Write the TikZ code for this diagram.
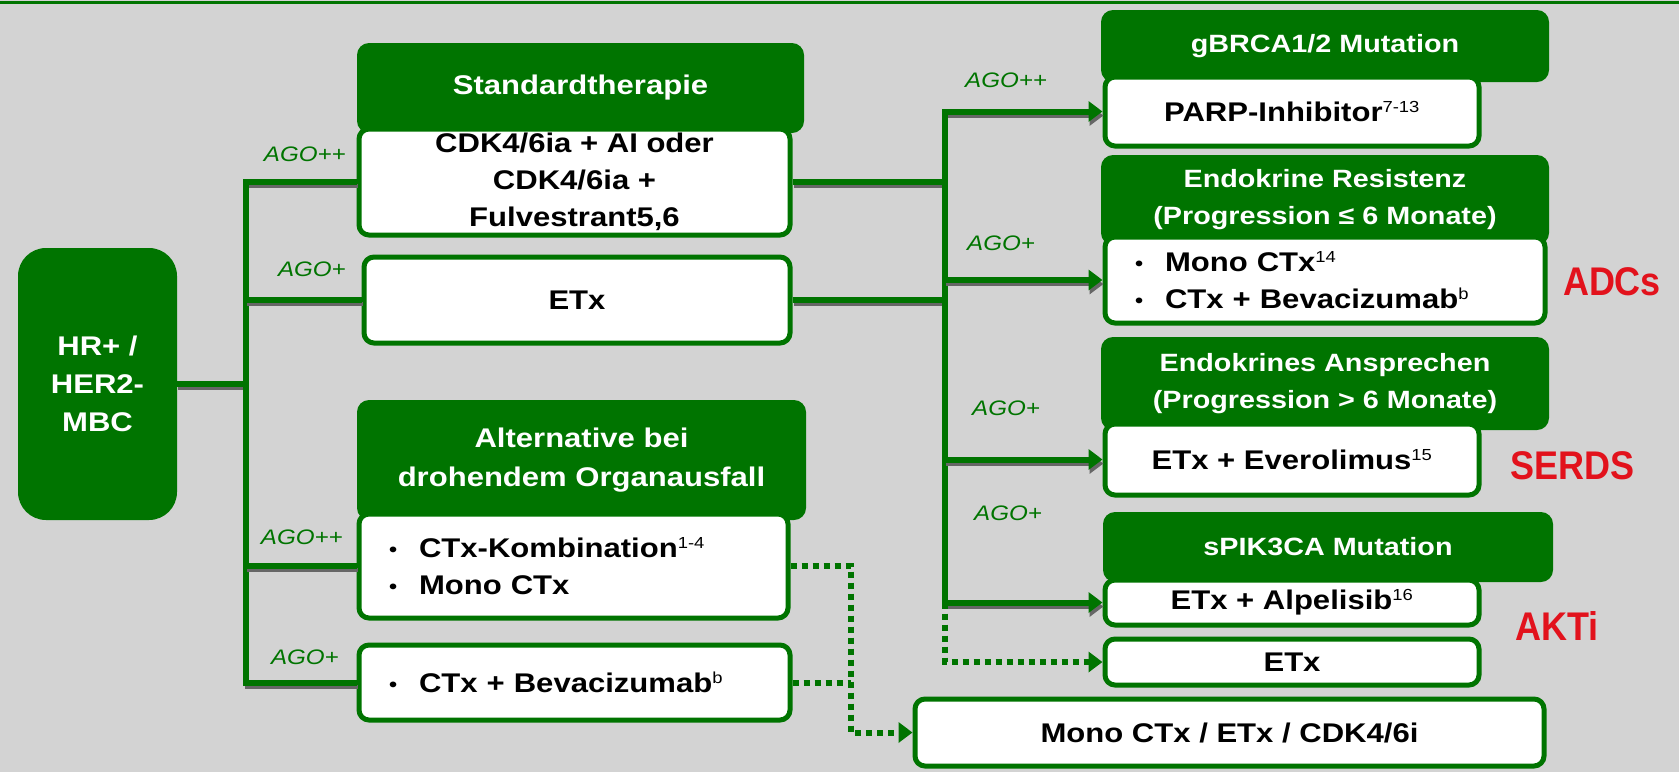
\documentclass[tikz,border=0pt]{standalone}
\usepackage{fontspec}
\setmainfont{Liberation Sans}[FakeStretch=1.15]
\newfontfamily\redfont{Liberation Sans}[FakeStretch=0.9]
\usetikzlibrary{arrows.meta}
\definecolor{agogreen}{RGB}{0,116,0}
\definecolor{bggray}{RGB}{211,211,211}
\definecolor{agored}{RGB}{226,18,28}
\newcommand{\bul}{{\fontsize{20}{20}\selectfont\raisebox{1pt}{\textbullet}}\hspace{22pt}}
\newcommand{\fn}[1]{\textsuperscript{\mdseries\fontsize{16}{16}\selectfont #1}}

\tikzset{
  head/.style={fill=agogreen, rounded corners=12pt, text=white, align=center, inner sep=0pt,
    font=\bfseries\fontsize{25}{37}\selectfont},
  cont/.style={draw=agogreen, line width=5pt, fill=white, rounded corners=10pt, align=center,
    inner sep=0pt, font=\bfseries\fontsize{27}{37}\selectfont},
  blist/.style={cont, align=left, inner xsep=30pt, text width=#1},
  ago/.style={text=agogreen, inner sep=0pt, font=\itshape\fontsize{21}{24}\selectfont},
  link/.style={draw=agogreen, line width=6pt,
    preaction={draw=black!60, line width=4pt, transform canvas={shift={(1pt,-4pt)}}}},
  arr/.style={link, -{Triangle[length=14pt,width=20pt]}},
  dots/.style={draw=agogreen, line width=6pt, dash pattern=on 6pt off 5pt},
  tag/.style={text=agored, inner sep=0pt, font=\redfont\bfseries\fontsize{40}{40}\selectfont}
}

\begin{document}
\begin{tikzpicture}[x=1pt,y=-1pt]
\fill[bggray] (0,0) rectangle (1679,772);
\useasboundingbox (0,0) rectangle (1679,772);
\draw[agogreen, line width=3pt] (0,2) -- (1679,2);

% Verbindungen
\coordinate (lt) at (246,0);
\coordinate (rt) at (945,0);
\coordinate (dj) at (851,0);

% linke Seite
\node[head, rounded corners=28pt, minimum width=159pt, minimum height=272pt,
  font=\bfseries\fontsize{27}{38}\selectfont] (hr) at (97.5,384) {HR+ /\\HER2-\\MBC};
\node[head, minimum width=447pt, minimum height=90pt,
  font=\bfseries\fontsize{27}{37}\selectfont] (stdh) at (580.5,88) {Standardtherapie};
\node[cont, minimum width=431pt, minimum height=106pt] (std) at (574.5,182)
  {CDK4/6ia + AI oder\\CDK4/6ia +\\Fulvestrant5,6};
\node[cont, minimum width=426pt, minimum height=86pt] (etx) at (577,300) {ETx};
\node[head, minimum width=449pt, minimum height=120pt,
  font=\bfseries\fontsize{27}{39}\selectfont] (alth) at (581.5,460) {Alternative bei\\drohendem Organausfall};
\node[blist=369pt, minimum height=104pt] (alt) at (573.5,566)
  {\bul CTx-Kombination\fn{1-4}\\\bul Mono CTx};
\node[blist=371pt, minimum height=75pt] (bev) at (574.5,682.5)
  {\bul CTx + Bevacizumab\fn{b}};

% rechte Seite
\node[head, minimum width=448pt, minimum height=72pt] (brcah) at (1325,46) {gBRCA1/2 Mutation};
\node[cont, minimum width=374pt, minimum height=69pt] (parp) at (1292,111.5)
  {PARP-Inhibitor\fn{7-13}};
\node[head, minimum width=448pt, minimum height=90pt] (endh) at (1325,200)
  {Endokrine Resistenz\\(Progression ≤ 6 Monate)};
\node[blist=380pt, minimum height=86pt] (endo) at (1325,280)
  {\bul Mono CTx\fn{14}\\\bul CTx + Bevacizumab\fn{b}};
\node[head, minimum width=448pt, minimum height=93pt] (ansh) at (1325,383.5)
  {Endokrines Ansprechen\\(Progression > 6 Monate)};
\node[cont, minimum width=374pt, minimum height=71pt] (evero) at (1292,459.5)
  {ETx + Everolimus\fn{15}};
\node[head, minimum width=450pt, minimum height=70pt] (pikh) at (1328,547) {sPIK3CA Mutation};
\node[cont, minimum width=374pt, minimum height=45pt] (alpe) at (1292,602.5)
  {ETx + Alpelisib\fn{16}};
\node[cont, minimum width=374pt, minimum height=46pt] (etxr) at (1292,662) {ETx};
\node[cont, minimum width=629pt, minimum height=67pt] (mono) at (1229.5,732.5)
  {Mono CTx / ETx / CDK4/6i};

\node[tag] (adc) at (1612,282) {ADCs};
\node[tag] (serd) at (1572,466) {SERDS};
\node[tag] (akt) at (1557,626) {AKTi};

\draw[link] (hr.east) -- (hr.east -| lt);
\draw[link] (std.west) -| (lt |- bev.west) -- (bev.west);
\foreach \n in {etx,alt} \draw[link] (lt |- \n.west) -- (\n.west);
\foreach \n in {std,etx} \draw[link] (\n.east) -- (\n.east -| rt);
\draw[arr] (rt |- alpe.west) |- (parp.west);
\foreach \n in {endo,evero,alpe} \draw[arr] (rt |- \n.west) -- (\n.west);
\draw[dots, -{Triangle[length=14pt,width=20pt]}] (rt |- alpe.west) |- (etxr.west);
\draw[dots, -{Triangle[length=14pt,width=20pt]}] (alt.east) -| (dj |- mono.west) -- (mono.west);
\draw[dots] (bev.east) -- (bev.east -| dj);

\node[ago, anchor=east] (l1) at (346,154) {AGO++};
\node[ago, anchor=east] (l2) at (346,269) {AGO+};
\node[ago, anchor=east] (l3) at (343,537) {AGO++};
\node[ago, anchor=east] (l4) at (339,657) {AGO+};
\node[ago, anchor=west] (r1) at (965,80) {AGO++};
\node[ago, anchor=west] (r2) at (967,243) {AGO+};
\node[ago, anchor=west] (r3) at (972,408) {AGO+};
\node[ago, anchor=west] (r4) at (974,513) {AGO+};
\end{tikzpicture}
\end{document}
